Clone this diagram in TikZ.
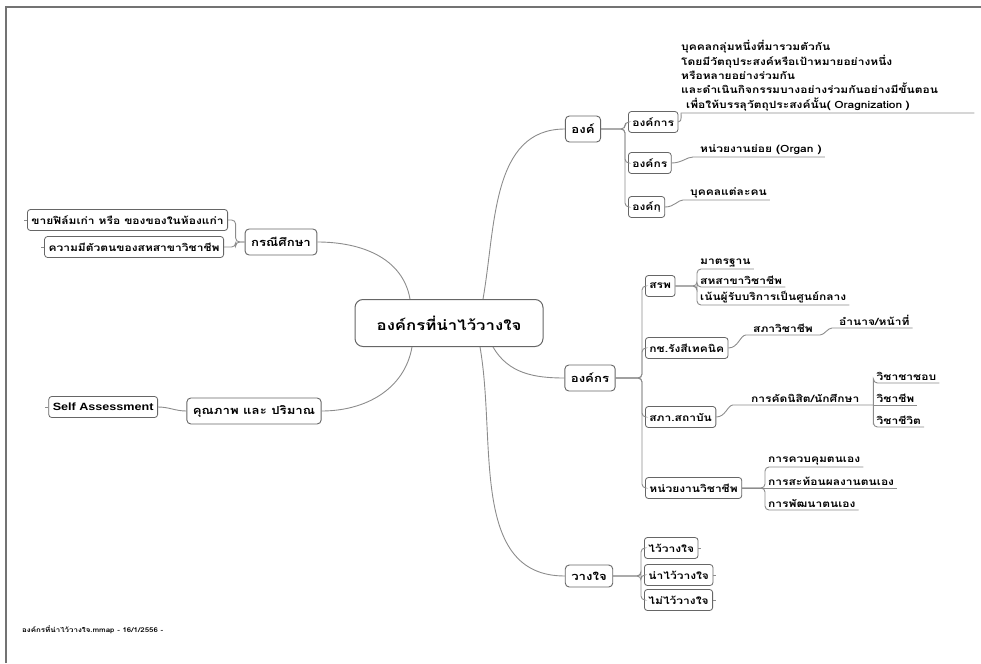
\documentclass[tikz,border=0pt]{standalone}
\usepackage{fontspec}
\setmainfont{Loma}[Script=Thai, FakeStretch=1.2]
\newfontfamily\latinfont{Liberation Sans}[FakeStretch=1.2]
\usetikzlibrary{positioning,calc}

\begin{document}
\begin{tikzpicture}[x=1pt, y=-1pt,
    link/.style={draw=black!45, line width=0.9pt, rounded corners=4pt},
    topic/.style={draw=black!60, line width=0.9pt, rounded corners=4pt, fill=white,
        font=\fontsize{11}{13}\selectfont\bfseries, inner xsep=6pt, inner ysep=1pt, minimum height=26pt},
    subtopic/.style={draw=black!60, line width=0.8pt, rounded corners=3pt, fill=white,
        font=\fontsize{10}{12}\selectfont\bfseries, inner xsep=4pt, inner ysep=1pt, minimum height=21pt},
    note/.style={anchor=south west, inner xsep=3pt, inner ysep=2pt,
        font=\fontsize{10}{12}\selectfont\bfseries},
    stub/.style={draw=black!45, line width=0.8pt}]
    \useasboundingbox (0,0) rectangle (981,663);
    % frame
    \draw[black!55, line width=1.5pt] (6,663) -- (6,7) -- (981,7);

    % centre
    \node[draw=black!60, line width=1pt, rounded corners=8pt, minimum width=188pt, minimum height=47pt,
        font=\fontsize{14}{17}\selectfont\bfseries] (root) at (449,323) {องค์กรที่น่าไว้วางใจ};

    % main topics
    \node[topic] (ong) at (583,129) {องค์};
    \node[topic] (ongkon) at (590,378) {องค์กร};
    \node[topic, minimum height=22pt] (wang) at (589,576) {วางใจ};
    \node[topic] (korani) at (281,242) {กรณีศึกษา};
    \node[topic] (khun) at (254,411) {คุณภาพ และ ปริมาณ};

    \draw[link] ([xshift=34pt]root.north) to[out=80,in=180] (ong.west);
    \draw[link] ([xshift=-39pt]root.north) to[out=100,in=0] (korani.east);
    \draw[link] ([xshift=-37pt]root.south) to[out=260,in=0] (khun.east);
    \draw[link] ([xshift=31pt]root.south) to[out=280,in=180] (wang.west);
    \draw[link] ([xshift=44pt]root.south) to[out=300,in=180] (ongkon.west);

    % ong
    \node[subtopic, anchor=west] (okan) at (628,122) {องค์การ};
    \node[subtopic, anchor=west] (okon) at (628,163) {องค์กร};
    \node[subtopic, anchor=west] (okku) at (628,207) {องค์กฺ};
    \draw[link] (ong.east) -| ([xshift=-3pt]okan.west) -- (okan.west);
    \draw[link] (ong.east) -| ([xshift=-3pt]okon.west) -- (okon.west);
    \draw[link] (ong.east) -| ([xshift=-3pt]okku.west) -- (okku.west);

    \node[note, text width=287pt, inner xsep=1pt, align=left, font=\fontsize{10}{14.3}\selectfont\bfseries] (okandef) at (685,113)
        {\hspace*{-5pt}บุคคลกลุ่มหนึ่งที่มารวมตัวกัน\\
         \hspace*{-5pt}โดยมีวัตถุประสงค์หรือเป้าหมายอย่างหนึ่ง\\
         \hspace*{-5pt}หรือหลายอย่างร่วมกัน\\
         \hspace*{-5pt}และดำเนินกิจกรรมบางอย่างร่วมกันอย่างมีขั้นตอน\\
         เพื่อให้บรรลุวัตถุประสงค์นั้น( Oragnization )};
    \node[note] (organ) at (697,157) {หน่วยงานย่อย (Organ )};
    \node[note] (bukkhon) at (687,200) {บุคคลแต่ละคน};
    \draw[link] (okan.east) to[out=0,in=180] (okandef.south west) -- (okandef.south east);
    \draw[link] (okon.east) to[out=0,in=180] (organ.south west) -- (organ.south east);
    \draw[link] (okku.east) to[out=0,in=180] (bukkhon.south west) -- (bukkhon.south east);

    % ongkon
    \node[subtopic, anchor=west] (sorpor) at (645,286) {สรพ};
    \node[subtopic, anchor=west] (korchor) at (645,348) {กช.รังสีเทคนิค};
    \node[subtopic, anchor=west] (sapha) at (645,417) {สภา.สถาบัน};
    \node[subtopic, anchor=west] (nuai) at (645,488) {หน่วยงานวิชาชีพ};
    \draw[link] (ongkon.east) -| ([xshift=-3pt]sorpor.west) -- (sorpor.west);
    \draw[link] (ongkon.east) -| ([xshift=-3pt]korchor.west) -- (korchor.west);
    \draw[link] (ongkon.east) -| ([xshift=-3pt]sapha.west) -- (sapha.west);
    \draw[link] (ongkon.east) -| ([xshift=-3pt]nuai.west) -- (nuai.west);

    \node[note] (matra) at (697,269) {มาตรฐาน};
    \node[note] (sahasakha) at (697,287) {สหสาขาวิชาชีพ};
    \node[note] (nen) at (697,305) {เน้นผู้รับบริการเป็นศูนย์กลาง};
    \draw[link] (sorpor.east) -| (matra.south west) -- (matra.south east);
    \draw[link] (sorpor.east) -| (sahasakha.south west) -- (sahasakha.south east);
    \draw[link] (sorpor.east) -| (nen.south west) -- (nen.south east);

    \node[note] (saphawi) at (750,335) {สภาวิชาชีพ};
    \node[note] (amnat) at (836,328) {อำนาจ/หน้าที่};
    \draw[link] (korchor.east) to[out=0,in=180] (saphawi.south west) -- (saphawi.south east)
        to[out=0,in=180] (amnat.south west) -- (amnat.south east);

    \node[note, minimum width=136pt] (khat) at (737,405) {การคัดนิสิต/นักศึกษา};
    \node[note] (chop) at ([yshift=22pt]khat.south east) {วิชาชาชอบ};
    \node[note] (chip) at (khat.south east) {วิชาชีพ};
    \node[note] (chiwit) at ([yshift=-22pt]khat.south east) {วิชาชีวิต};
    \draw[link] (sapha.east) to[out=0,in=180] (khat.south west) -- (khat.south east);
    \draw[link] (khat.south east) |- (chop.south west) -- (chop.south east);
    \draw[link] (khat.south east) -- (chip.south east);
    \draw[link] (khat.south east) |- (chiwit.south west) -- (chiwit.south east);

    \node[note] (khuap) at (765,467) {การควบคุมตนเอง};
    \node[note] (sathon) at (765,488) {การสะท้อนผลงานตนเอง};
    \node[note] (phatta) at (765,510) {การพัฒนาตนเอง};
    \draw[link] (nuai.east) -| (khuap.south west) -- (khuap.south east);
    \draw[link] (nuai.east) -- (sathon.south east);
    \draw[link] (nuai.east) -| (phatta.south west) -- (phatta.south east);

    % wang
    \node[subtopic, anchor=west] (wai) at (644,548) {ไว้วางใจ};
    \node[subtopic, anchor=west] (nawai) at (644,575) {น่าไว้วางใจ};
    \node[subtopic, anchor=west] (maiwai) at (644,600) {ไม่ไว้วางใจ};
    \draw[link] (wang.east) -| ([xshift=-3pt]wai.west) -- (wai.west);
    \draw[link] (wang.east) -| ([xshift=-3pt]nawai.west) -- (nawai.west);
    \draw[link] (wang.east) -| ([xshift=-3pt]maiwai.west) -- (maiwai.west);
    \foreach \n in {wai,nawai,maiwai}
        \draw[stub] (\n.east) -- ++(3,0);

    % korani
    \node[subtopic, anchor=east] (khai) at (228,220) {ขายฟิล์มเก่า หรือ ของของในห้องแก่า};
    \node[subtopic, anchor=east] (tuaton) at (224,247) {ความมีตัวตนของสหสาขาวิชาชีพ};
    \draw[link] (korani.west) -- ++(-9,0) |- (khai.east);
    \draw[link] (korani.west) -- ++(-9,0) |- (tuaton.east);

    % khun
    \node[subtopic, anchor=east, font=\fontsize{10.5}{12}\selectfont\bfseries\latinfont] (self) at (158,407) {Self Assessment};
    \draw[link] (khun.west) to[out=180,in=0] (self.east);
    \foreach \n in {khai,tuaton,self}
        \draw[stub] (\n.west) -- ++(-3,0);

    % footer
    \node[anchor=west, inner sep=0pt, font=\fontsize{6.6}{8}\selectfont\bfseries] (footer) at (22,630)
        {องค์กรที่น่าไว้วางใจ.mmap - 16/1/2556 -};
\end{tikzpicture}
\end{document}
